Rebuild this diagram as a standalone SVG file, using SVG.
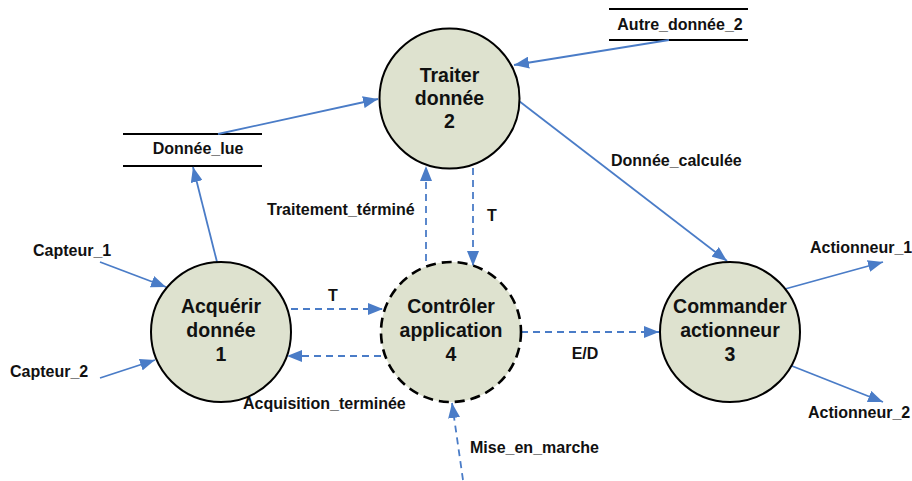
<svg xmlns="http://www.w3.org/2000/svg" width="912" height="481" viewBox="0 0 912 481">
  <style>
    text { font-family: "Liberation Sans", Arial, sans-serif; font-weight: bold; fill: #111; }
    .proc { fill: #dee2cf; stroke: #000; stroke-width: 2; }
    .ctrl { stroke-width: 2.6; stroke-dasharray: 10 6; }
    .big { font-size: 19.5px; text-anchor: middle; }
    .lbl { font-size: 16px; }
    .mid { text-anchor: middle; }
    .flow { fill: none; stroke: #4a7cc7; stroke-width: 1.8; marker-end: url(#arr); }
    .dash { stroke-dasharray: 7 5; }
    .store { stroke: #000; stroke-width: 2; }
  </style>
  <defs>
    <marker id="arr" markerUnits="userSpaceOnUse" markerWidth="16" markerHeight="12" refX="15" refY="6" orient="auto">
      <path d="M0,0 L15,6 L0,12 z" fill="#4a7cc7"/>
    </marker>
  </defs>

  <rect width="912" height="481" fill="#fff"/>

  <!-- data stores -->
  <g id="store-autre">
    <line class="store" x1="609" y1="9" x2="748" y2="9"/>
    <line class="store" x1="609" y1="40" x2="748" y2="40"/>
    <text class="lbl mid" x="680" y="30">Autre_donnée_2</text>
  </g>
  <g id="store-lue">
    <line class="store" x1="123" y1="134" x2="262" y2="134"/>
    <line class="store" x1="123" y1="166" x2="262" y2="166"/>
    <text class="lbl mid" x="198" y="154">Donnée_lue</text>
  </g>

  <!-- connectors -->
  <g id="connectors">
    <line class="flow" x1="218" y1="134" x2="378" y2="99"/>
    <line class="flow" x1="669" y1="40" x2="514" y2="65"/>
    <line class="flow" x1="217" y1="262" x2="193" y2="167"/>
    <line class="flow" x1="100" y1="262" x2="166" y2="287"/>
    <line class="flow" x1="100" y1="378" x2="155" y2="360"/>
    <line class="flow dash" x1="291" y1="309" x2="383" y2="309"/>
    <line class="flow dash" x1="381" y1="356" x2="287" y2="356"/>
    <line class="flow dash" x1="426" y1="261" x2="426" y2="166"/>
    <line class="flow dash" x1="473" y1="168" x2="473" y2="266"/>
    <line class="flow dash" x1="521" y1="332" x2="659" y2="332"/>
    <line class="flow dash" x1="463" y1="480" x2="452" y2="403"/>
    <line class="flow" x1="519" y1="101" x2="727" y2="261"/>
    <line class="flow" x1="785" y1="289" x2="883" y2="262"/>
    <line class="flow" x1="792" y1="366" x2="883" y2="402"/>

    <text class="lbl" x="33" y="256">Capteur_1</text>
    <text class="lbl" x="10" y="377">Capteur_2</text>
    <text class="lbl mid" x="333" y="301">T</text>
    <text class="lbl" x="243" y="409">Acquisition_terminée</text>
    <text class="lbl" x="267" y="215">Traitement_términé</text>
    <text class="lbl mid" x="492" y="221">T</text>
    <text class="lbl mid" x="585" y="359">E/D</text>
    <text class="lbl" x="470" y="453">Mise_en_marche</text>
    <text class="lbl" x="611" y="166">Donnée_calculée</text>
    <text class="lbl" x="810" y="253">Actionneur_1</text>
    <text class="lbl" x="808" y="418">Actionneur_2</text>
  </g>

  <!-- processes -->
  <g id="p1">
    <circle class="proc" cx="221" cy="332" r="70"/>
    <text class="big" x="221" y="313">Acquérir</text>
    <text class="big" x="221" y="337">donnée</text>
    <text class="big" x="221" y="361">1</text>
  </g>
  <g id="p2">
    <circle class="proc" cx="449.5" cy="98.5" r="70"/>
    <text class="big" x="449.5" y="82">Traiter</text>
    <text class="big" x="449.5" y="105">donnée</text>
    <text class="big" x="449.5" y="128">2</text>
  </g>
  <g id="p3">
    <circle class="proc" cx="730" cy="332" r="70"/>
    <text class="big" x="730" y="313">Commander</text>
    <text class="big" x="730" y="337">actionneur</text>
    <text class="big" x="730" y="361">3</text>
  </g>
  <g id="p4">
    <circle class="proc ctrl" cx="451" cy="332" r="70"/>
    <text class="big" x="451" y="313">Contrôler</text>
    <text class="big" x="451" y="337">application</text>
    <text class="big" x="451" y="361">4</text>
  </g>
</svg>
